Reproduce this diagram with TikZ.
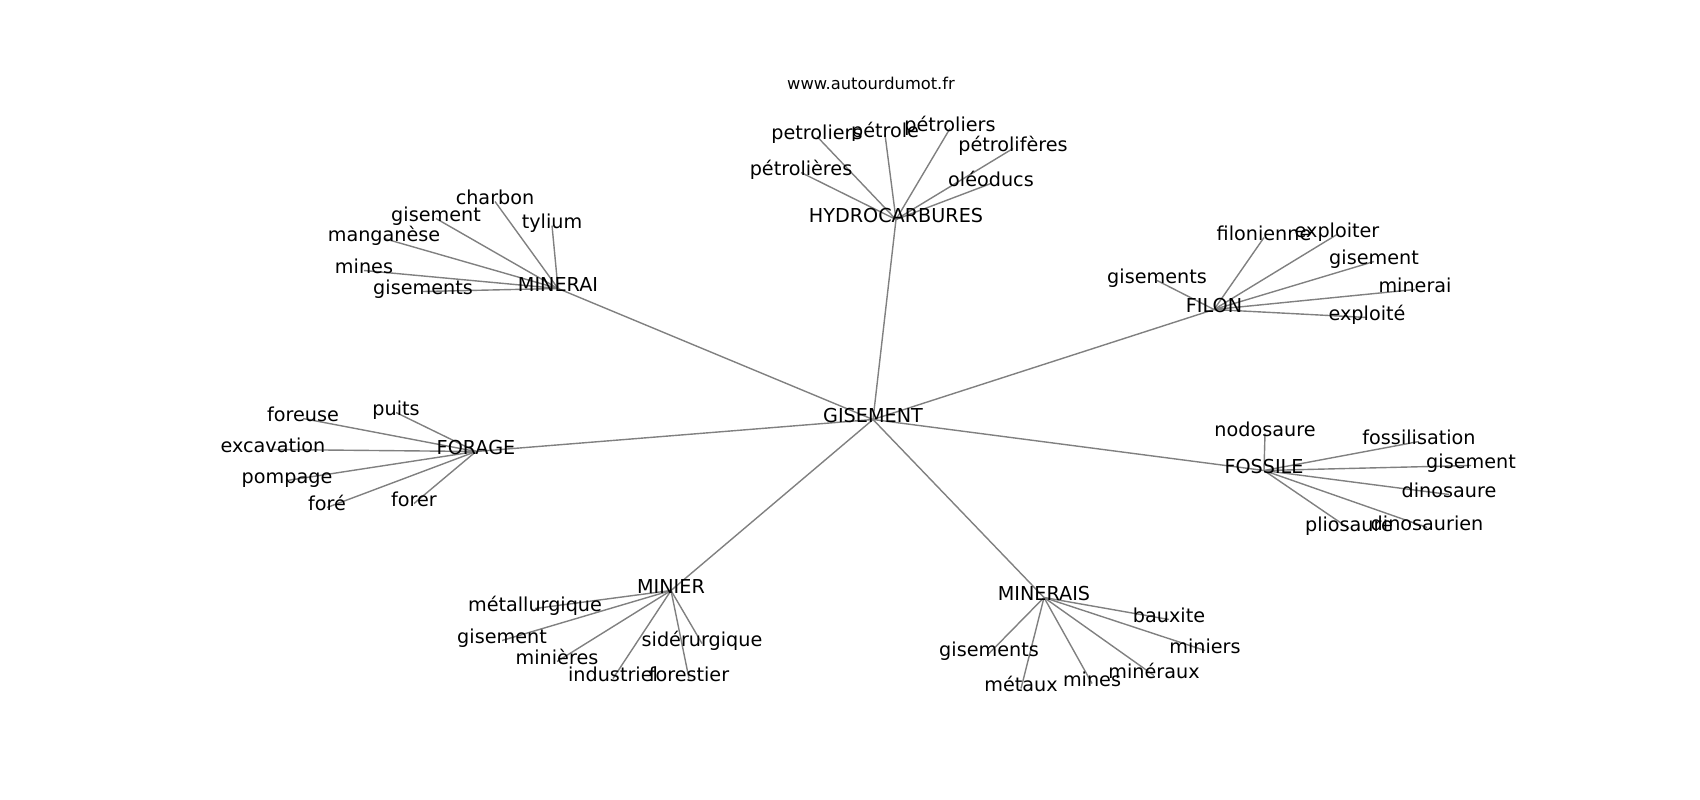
\documentclass[tikz,border=0pt]{standalone}
\usepackage{fontspec}
\setmainfont{DejaVu Sans}
\begin{document}
\begin{tikzpicture}[x=1pt,y=-1pt,
  lbl/.style={inner sep=0pt, text height=0.76em, text depth=0.21em, font=\fontsize{19.2}{22}\selectfont},
  wm/.style={inner sep=0pt, font=\fontsize{16.3}{19}\selectfont},
  edge/.style={draw=black!50, line width=1.4pt}]
\useasboundingbox (0,0) rectangle (1700,800);
\node[wm] (wmk) at (871,83) {www.autourdumot.fr};
\begin{scope}[shift={(2,5.5)}]
% hubs
\coordinate (c0) at (871,414);
\coordinate (c1) at (894,214);
\coordinate (c2) at (556,283);
\coordinate (c3) at (1212,304);
\coordinate (c4) at (1262,465);
\coordinate (c5) at (474,446);
\coordinate (c6) at (669,585);
\coordinate (c7) at (1042,592);
% leaves
\coordinate (h1) at (815,131);
\coordinate (h2) at (883,129);
\coordinate (h3) at (948,123);
\coordinate (h4) at (1011,143);
\coordinate (h5) at (989,178);
\coordinate (h6) at (799,167);
\coordinate (m1) at (493,196);
\coordinate (m2) at (434,213);
\coordinate (m3) at (550,220);
\coordinate (m4) at (382,233);
\coordinate (m5) at (362,265);
\coordinate (m6) at (421,286);
\coordinate (f1) at (1262,232);
\coordinate (f2) at (1335,229);
\coordinate (f3) at (1372,256);
\coordinate (f4) at (1413,284);
\coordinate (f5) at (1365,312);
\coordinate (f6) at (1155,275);
\coordinate (s1) at (1263,428);
\coordinate (s2) at (1417,436);
\coordinate (s3) at (1469,460);
\coordinate (s4) at (1447,489);
\coordinate (s5) at (1425,522);
\coordinate (s6) at (1347,523);
\coordinate (g1) at (394,407);
\coordinate (g2) at (301,413);
\coordinate (g3) at (271,444);
\coordinate (g4) at (285,475);
\coordinate (g5) at (325,502);
\coordinate (g6) at (412,498);
\coordinate (n1) at (533,603);
\coordinate (n2) at (500,635);
\coordinate (n3) at (555,656);
\coordinate (n4) at (611,673);
\coordinate (n5) at (687,673);
\coordinate (n6) at (700,638);
\coordinate (r1) at (1167,614);
\coordinate (r2) at (1203,645);
\coordinate (r3) at (987,648);
\coordinate (r4) at (1019,683);
\coordinate (r5) at (1090,678);
\coordinate (r6) at (1152,670);
% edges
\foreach \h in {c1,c2,c3,c4,c5,c6,c7} \draw[edge] (c0) -- (\h);
\foreach \l in {h1,h2,h3,h4,h5,h6} \draw[edge] (c1) -- (\l);
\foreach \l in {m1,m2,m3,m4,m5,m6} \draw[edge] (c2) -- (\l);
\foreach \l in {f1,f2,f3,f4,f5,f6} \draw[edge] (c3) -- (\l);
\foreach \l in {s1,s2,s3,s4,s5,s6} \draw[edge] (c4) -- (\l);
\foreach \l in {g1,g2,g3,g4,g5,g6} \draw[edge] (c5) -- (\l);
\foreach \l in {n1,n2,n3,n4,n5,n6} \draw[edge] (c6) -- (\l);
\foreach \l in {r1,r2,r3,r4,r5,r6} \draw[edge] (c7) -- (\l);
% labels
\node[lbl] (t0) at (c0) {GISEMENT};
\node[lbl] (t1) at (c1) {HYDROCARBURES};
\node[lbl] (t2) at (c2) {MINERAI};
\node[lbl] (t3) at (c3) {FILON};
\node[lbl] (t4) at (c4) {FOSSILE};
\node[lbl] (t5) at (c5) {FORAGE};
\node[lbl] (t6) at (c6) {MINIER};
\node[lbl] (t7) at (c7) {MINERAIS};
\node[lbl] (th1) at (h1) {petroliers};
\node[lbl] (th2) at (h2) {pétrole};
\node[lbl] (th3) at (h3) {pétroliers};
\node[lbl] (th4) at (h4) {pétrolifères};
\node[lbl] (th5) at (h5) {oléoducs};
\node[lbl] (th6) at (h6) {pétrolières};
\node[lbl] (tm1) at (m1) {charbon};
\node[lbl] (tm2) at (m2) {gisement};
\node[lbl] (tm3) at (m3) {tylium};
\node[lbl] (tm4) at (m4) {manganèse};
\node[lbl] (tm5) at (m5) {mines};
\node[lbl] (tm6) at (m6) {gisements};
\node[lbl] (tf1) at (f1) {filonienne};
\node[lbl] (tf2) at (f2) {exploiter};
\node[lbl] (tf3) at (f3) {gisement};
\node[lbl] (tf4) at (f4) {minerai};
\node[lbl] (tf5) at (f5) {exploité};
\node[lbl] (tf6) at (f6) {gisements};
\node[lbl] (ts1) at (s1) {nodosaure};
\node[lbl] (ts2) at (s2) {fossilisation};
\node[lbl] (ts3) at (s3) {gisement};
\node[lbl] (ts4) at (s4) {dinosaure};
\node[lbl] (ts5) at (s5) {dinosaurien};
\node[lbl] (ts6) at (s6) {pliosaure};
\node[lbl] (tg1) at (g1) {puits};
\node[lbl] (tg2) at (g2) {foreuse};
\node[lbl] (tg3) at (g3) {excavation};
\node[lbl] (tg4) at (g4) {pompage};
\node[lbl] (tg5) at (g5) {foré};
\node[lbl] (tg6) at (g6) {forer};
\node[lbl] (tn1) at (n1) {métallurgique};
\node[lbl] (tn2) at (n2) {gisement};
\node[lbl] (tn3) at (n3) {minières};
\node[lbl] (tn4) at (n4) {industriel};
\node[lbl] (tn5) at (n5) {forestier};
\node[lbl] (tn6) at (n6) {sidérurgique};
\node[lbl] (tr1) at (r1) {bauxite};
\node[lbl] (tr2) at (r2) {miniers};
\node[lbl] (tr3) at (r3) {gisements};
\node[lbl] (tr4) at (r4) {métaux};
\node[lbl] (tr5) at (r5) {mines};
\node[lbl] (tr6) at (r6) {minéraux};
\end{scope}
\end{tikzpicture}
\end{document}
